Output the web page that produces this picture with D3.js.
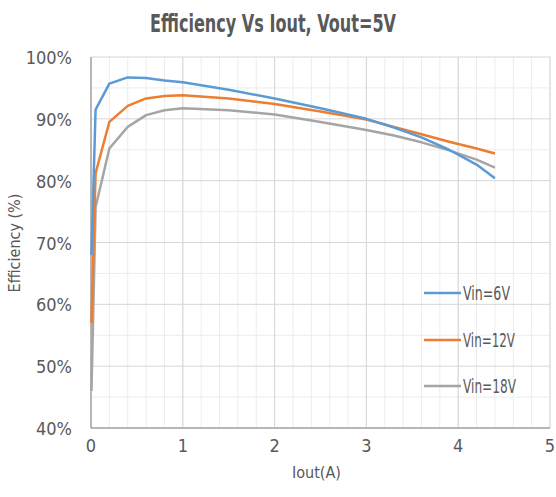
<!DOCTYPE html>
<html>
<head>
<meta charset="utf-8">
<script src="https://cdn.jsdelivr.net/npm/d3@7"></script>
<style>
  body { margin: 0; background: #fff; }
  text { font-family: "DejaVu Sans Condensed", "Liberation Sans Narrow", sans-serif; font-stretch: condensed; fill: #595959; }
</style>
</head>
<body>
<svg id="chart" width="556" height="497"></svg>
<script>
// load current (A)
var iout  = [0.005, 0.05, 0.2, 0.4, 0.6, 0.8, 1.0, 1.5, 2.0, 2.5, 3.0, 3.3, 3.6, 3.9, 4.2, 4.4];
// efficiency (%) per input voltage
var vin6  = [68, 91.5, 95.7, 96.7, 96.6, 96.2, 95.9, 94.7, 93.3, 91.7, 90.0, 88.6, 87.0, 85.0, 82.6, 80.4];
var vin12 = [57, 81.2, 89.5, 92.1, 93.3, 93.7, 93.8, 93.3, 92.4, 91.2, 89.9, 88.7, 87.5, 86.3, 85.2, 84.4];
var vin18 = [46, 75.7, 85.2, 88.7, 90.6, 91.4, 91.7, 91.4, 90.7, 89.5, 88.2, 87.3, 86.2, 84.9, 83.4, 82.1];

var seriesNames = ["Vin=6V", "Vin=12V", "Vin=18V"];
var seriesColors = ["#5B9BD5", "#ED7D31", "#A5A5A5"];
var xTicks = [0, 1, 2, 3, 4, 5];
var yTicks = [40, 50, 60, 70, 80, 90, 100];

var svg = d3.select("#chart");
var pL = 91, pR = 550, pT = 57, pB = 428;

var x = d3.scaleLinear().domain([0, 5]).range([pL, pR]);
var y = d3.scaleLinear().domain([40, 100]).range([pB, pT]);

// minor grid
var g = svg.append("g");
g.selectAll(".vmin").data(d3.range(0, 5.01, 0.2)).enter().append("line")
  .attr("x1", d => x(d)).attr("x2", d => x(d)).attr("y1", pT).attr("y2", pB)
  .attr("stroke", "#ececec").attr("stroke-width", 1);
g.selectAll(".hmin").data(d3.range(45, 100, 10)).enter().append("line")
  .attr("x1", pL).attr("x2", pR).attr("y1", d => y(d)).attr("y2", d => y(d))
  .attr("stroke", "#ececec").attr("stroke-width", 1);

// major grid
g.selectAll(".vmaj").data(xTicks).enter().append("line")
  .attr("x1", d => x(d)).attr("x2", d => x(d)).attr("y1", pT).attr("y2", pB)
  .attr("stroke", "#d6d6d6").attr("stroke-width", 1);
g.selectAll(".hmaj").data(yTicks).enter().append("line")
  .attr("x1", pL).attr("x2", pR).attr("y1", d => y(d)).attr("y2", d => y(d))
  .attr("stroke", "#d6d6d6").attr("stroke-width", 1);

// axis lines
svg.append("line").attr("x1", pL).attr("x2", pL).attr("y1", pT).attr("y2", pB)
  .attr("stroke", "#a6a6a6").attr("stroke-width", 1.5);
svg.append("line").attr("x1", pL).attr("x2", pR).attr("y1", pB).attr("y2", pB)
  .attr("stroke", "#a6a6a6").attr("stroke-width", 1.5);

// tick labels
svg.selectAll(".ylab").data(yTicks).enter().append("text")
  .attr("x", 72).attr("y", d => y(d) + 7)
  .attr("text-anchor", "end").attr("font-size", 18)
  .text(d => d + "%");
svg.selectAll(".xlab").data(xTicks).enter().append("text")
  .attr("x", d => x(d)).attr("y", 452)
  .attr("text-anchor", "middle").attr("font-size", 18)
  .text(d => d);

// axis titles
svg.append("text").attr("x", (pL + pR) / 2 - 4).attr("y", 478)
  .attr("text-anchor", "middle").attr("font-size", 16).text("Iout(A)");
svg.append("text").attr("transform", "translate(20,243) rotate(-90)")
  .attr("text-anchor", "middle").attr("font-size", 16).text("Efficiency (%)");

// title
svg.append("text").attr("x", 273).attr("y", 32)
  .attr("text-anchor", "middle").attr("font-size", 25).attr("font-weight", "bold")
  .attr("textLength", 246).attr("lengthAdjust", "spacingAndGlyphs")
  .text("Efficiency Vs Iout, Vout=5V");

// series, drawn back to front
var line = d3.line().x(d => x(d[0])).y(d => y(d[1]));
var allSeries = [vin6, vin12, vin18];
[2, 1, 0].forEach(function(i) {
  svg.append("path")
    .datum(iout.map((v, j) => [v, allSeries[i][j]]))
    .attr("d", line)
    .attr("fill", "none")
    .attr("stroke", seriesColors[i])
    .attr("stroke-width", 2.5)
    .attr("stroke-linejoin", "round");
});

// legend
var legY = [293, 340, 386];
var legW = [47, 52, 53];
seriesNames.forEach(function(name, i) {
  svg.append("line").attr("x1", 424).attr("x2", 461).attr("y1", legY[i]).attr("y2", legY[i])
    .attr("stroke", seriesColors[i]).attr("stroke-width", 2.5);
  svg.append("text").attr("x", 463).attr("y", legY[i] + 7)
    .attr("font-size", 20).attr("textLength", legW[i]).attr("lengthAdjust", "spacingAndGlyphs")
    .text(name);
});
</script>
</body>
</html>
